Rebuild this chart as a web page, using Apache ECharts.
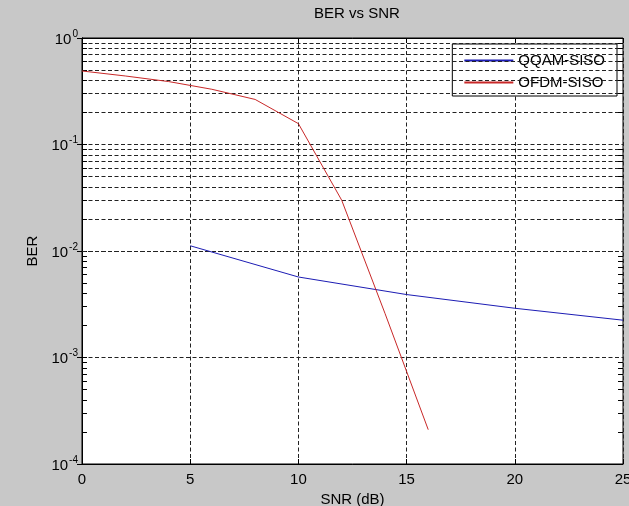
<!DOCTYPE html>
<html>
<head>
<meta charset="utf-8">
<script src="https://cdn.jsdelivr.net/npm/echarts@6/dist/echarts.min.js"></script>
<style>
html,body{margin:0;padding:0;background:#c8c8c8;}
#chart{width:629px;height:506px;}
</style>
</head>
<body>
<div id="chart"></div>
<script>
// ---- data ----
const snrOfdm = [0, 2, 4, 6, 8, 10, 12, 14, 16];
const berOfdm = [0.49, 0.44, 0.39, 0.33, 0.265, 0.157, 0.030, 0.0026, 0.00021];
const snrQqam = [5, 10, 15, 20, 25];
const berQqam = [0.0112, 0.0057, 0.0039, 0.0029, 0.00224];
const xTickLabels = [0, 5, 10, 15, 20, 25];
const yDecades = [1e-4, 1e-3, 1e-2, 1e-1, 1];
const seriesNames = ['QQAM-SISO', 'OFDM-SISO'];

// minor log grid values (2..9 x decade)
const minorVals = [];
for (let i = 0; i < yDecades.length - 1; i++) {
  for (let m = 2; m <= 9; m++) minorVals.push(m * yDecades[i]);
}

const FONT = '"Liberation Sans", Arial, sans-serif';
const dash = [4, 2.5];
const gridColor = '#222';

const chart = echarts.init(document.getElementById('chart'), null, {renderer: 'canvas'});

const minorGridLines = minorVals.map(v => ({yAxis: v}));
const minorTicks = [];
minorVals.forEach(v => {
  minorTicks.push([{xAxis: 0, yAxis: v}, {xAxis: 0.23, yAxis: v}]);
  minorTicks.push([{xAxis: 25, yAxis: v}, {xAxis: 24.77, yAxis: v}]);
});

chart.setOption({
  backgroundColor: '#c8c8c8',
  animation: false,
  title: {
    text: 'BER vs SNR',
    left: 352,
    textAlign: 'center',
    top: 1,
    textStyle: {fontFamily: FONT, fontSize: 15, fontWeight: 'normal', color: '#000'}
  },
  legend: {
    data: seriesNames,
    orient: 'vertical',
    right: 12,
    top: 44,
    backgroundColor: '#fff',
    borderColor: '#000',
    borderWidth: 1,
    borderRadius: 0,
    padding: [9, 12, 6, 11],
    itemWidth: 49,
    itemHeight: 14,
    itemGap: 7,
    itemStyle: {opacity: 0, borderWidth: 0},
    textStyle: {fontFamily: FONT, fontSize: 15, color: '#000'}
  },
  grid: {
    left: 82, right: 6, top: 38, bottom: 42,
    containLabel: false,
    outerBoundsMode: 'none',
    show: true, backgroundColor: '#fff', borderColor: '#000', borderWidth: 1
  },
  xAxis: [{
    type: 'value', min: 0, max: 25, interval: 5,
    name: 'SNR (dB)', nameLocation: 'middle', nameGap: 27,
    nameTextStyle: {fontFamily: FONT, fontSize: 15, color: '#000'},
    axisLine: {show: true, lineStyle: {color: '#000'}},
    axisTick: {show: true, inside: true, length: 5, lineStyle: {color: '#000'}},
    axisLabel: {
      fontFamily: FONT, fontSize: 15, color: '#000', margin: 8,
      formatter: v => xTickLabels.includes(v) ? String(v) : ''
    },
    splitLine: {show: true, lineStyle: {color: gridColor, type: dash, width: 1}}
  }, {
    type: 'value', min: 0, max: 25, interval: 5, position: 'top',
    axisLine: {show: true, lineStyle: {color: '#000'}},
    axisTick: {show: true, inside: true, length: 5, lineStyle: {color: '#000'}},
    axisLabel: {show: false}, splitLine: {show: false}
  }],
  yAxis: [{
    type: 'log', logBase: 10, min: 1e-4, max: 1,
    name: 'BER', nameLocation: 'middle', nameGap: 35,
    nameTextStyle: {fontFamily: FONT, fontSize: 15, color: '#000'},
    axisLine: {show: true, lineStyle: {color: '#000'}},
    axisTick: {show: true, inside: true, length: 5, lineStyle: {color: '#000'}},
    axisLabel: {
      fontFamily: FONT, color: '#000', margin: 4,
      formatter: v => '{b|10}{s|' + Math.round(Math.log10(v)) + '}',
      rich: {
        b: {fontFamily: FONT, fontSize: 15, color: '#000', verticalAlign: 'bottom'},
        s: {fontFamily: FONT, fontSize: 10, color: '#000', verticalAlign: 'bottom', padding: [0, 0, 8, 1]}
      }
    },
    splitLine: {show: true, lineStyle: {color: gridColor, type: dash, width: 1}}
  }, {
    type: 'log', logBase: 10, min: 1e-4, max: 1, position: 'right',
    axisLine: {show: true, lineStyle: {color: '#000'}},
    axisTick: {show: true, inside: true, length: 5, lineStyle: {color: '#000'}},
    axisLabel: {show: false}, splitLine: {show: false}
  }],
  series: [{
    name: seriesNames[0],
    type: 'line',
    data: snrQqam.map((x, i) => [x, berQqam[i]]),
    symbol: 'none',
    lineStyle: {color: '#1c1cb4', width: 1},
    itemStyle: {color: '#1c1cb4'},
    z: 5
  }, {
    name: seriesNames[1],
    type: 'line',
    data: snrOfdm.map((x, i) => [x, berOfdm[i]]),
    symbol: 'none',
    lineStyle: {color: '#c82828', width: 1},
    itemStyle: {color: '#c82828'},
    z: 5,
    markLine: {
      silent: true, symbol: 'none', label: {show: false}, animation: false,
      data: minorGridLines,
      lineStyle: {color: gridColor, type: dash, width: 1}
    }
  }, {
    name: 'ticks',
    type: 'line',
    data: [],
    markLine: {
      silent: true, symbol: 'none', label: {show: false}, animation: false,
      data: minorTicks,
      lineStyle: {color: '#000', type: 'solid', width: 1}
    }
  }]
});
</script>
</body>
</html>
